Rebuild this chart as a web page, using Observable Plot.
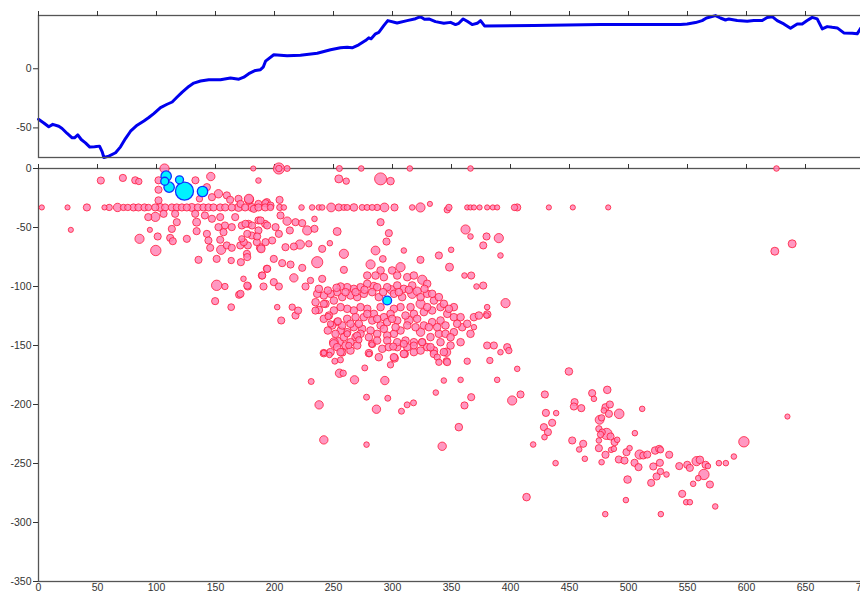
<!DOCTYPE html>
<html>
<head>
<meta charset="utf-8">
<script src="https://cdn.jsdelivr.net/npm/d3@7"></script>
<script src="https://cdn.jsdelivr.net/npm/@observablehq/plot@0.6"></script>
<style>
  html, body { margin: 0; padding: 0; background: #fff; overflow: hidden; width: 860px; height: 594px; }
  #chart { width: 870px; }
  #chart > * { display: block; }
</style>
</head>
<body>
<div id="chart"></div>
<script>
// Topographic profile: [distance km, elevation]
const profile = [
  [0,-42.7],[4.5,-45.8],[8.7,-49],[12.1,-47],[17.2,-48.6],[20,-50.5],[24.3,-54.7],[28.5,-58.4],[30.5,-58.4],
  [33.3,-55.9],[36.2,-59.8],[39.8,-62.6],[43.5,-66.2],[47.5,-66],[51.7,-65.4],[54,-70.2],[55.4,-75],[59.6,-73.8],
  [65.3,-71],[69.5,-66],[73.7,-59],[78,-52.8],[83.6,-47.7],[89.3,-44.1],[93.5,-41.2],[97.7,-37.9],[103.4,-32.8],
  [109,-30],[113.3,-28.1],[117.5,-23.9],[121.8,-19.7],[127.4,-14.9],[131.6,-12.1],[137.3,-10.4],[144.3,-9.3],
  [154.2,-9.3],[162.7,-7.9],[169.8,-8.8],[174,-7.1],[178.2,-4.2],[183.9,-1.4],[188.1,-0.8],[190.4,1.3],[192.4,6.4],
  [199.4,11.8],[210.7,10.9],[222,11.5],[236.2,13.1],[247.5,16],[255.9,17.7],[261.6,18.2],[265.8,17.7],[271.4,20.2],
  [277.1,23.8],[279.9,26.1],[281.9,25.3],[285.6,29.5],[288.4,30.8],[292.6,36.4],[296,40.7],[303.9,38.7],[312.4,40.7],
  [319.5,42.3],[323.7,44],[327.1,41.8],[330.8,42.1],[336.4,39.8],[343.5,38.4],[349.2,39.2],[353.4,37.3],[356.2,38.4],
  [359.9,42.1],[363.3,40.1],[367.5,37.3],[371.8,38.4],[374.6,40.7],[378,36.2],[420,36.5],[476,37.3],[515.8,37.3],
  [544.1,37.3],[549.7,37.9],[556.8,39],[562.4,40.7],[566.1,42.9],[573.7,44.9],[577.9,42.9],[582.2,41.2],[585,42.1],
  [592.1,40.7],[600.6,40.1],[606.2,40.7],[613.3,40.7],[617.5,43.4],[621.8,44],[626,40.7],[631.6,37.9],[637.3,34.2],
  [643,37.9],[647.2,37.9],[651.4,40.7],[655.7,43.4],[659.9,42.1],[664.2,33.7],[668.4,35.6],[672.6,35],[676.9,34.5],
  [682.5,30.3],[689.6,30],[693.8,29.5],[697,34.5]
];

// Earthquakes: [distance km, depth km (negative), magnitude]
const quakes = [
  [106.8,0,3.3],[182,0,2.3],[203.7,0,3.8],[203.7,0,2.6],[210.7,0,2.5],[255,0,2.5],[273.5,0,2.4],[314.7,0,2.4],[366.1,0,2.4],[625.4,0,2.4],
  [52.8,-10.2,2.8],[71.5,-8,2.8],[82,-10,2.8],[85,-11,2.6],[101.7,-10,2.8],[133,-10,2.8],[146,-6.8,3.1],[186.4,-10.2,2.4],
  [101.7,-18,2.8],[142.7,-15.8,2.8],[101.7,-27,2.8],
  [152.5,-21.4,3.1],[159.6,-22.8,2.8],[162.4,-26.5,2.8],[169.5,-25.7,2.8],[178.5,-26.5,3.3],[186.4,-30,2.8],[193.5,-28.5,2.8],[136.4,-25.7,2.6],[147,-24.3,2.8],
  [178.3,-25.7,3.3],[171.2,-30,2.8],[192.4,-29.4,2.8],[196.6,-31.4,2.8],[204.3,-26.6,2.8],[182.5,-34.2,2.8],
  [254.5,-8.8,3],[260.8,-10.7,2.6],[289.9,-8.8,4],[298.3,-10.7,2.9],
  // fixed-depth band
  [2.8,-33,2.3],[24.6,-33,2.3],[41,-33,2.8],[55.9,-33,2.3],[59.9,-33,2.6],[67,-33,3.1],[72,-33,2.6],[75.7,-33,2.6],[80.5,-33,2.8],
  [84.7,-33,2.8],[89.8,-33,2.8],[93.2,-33,2.6],[98.9,-33,2.8],[103.1,-33,3],[107.3,-33,2.8],[113,-33,2.8],[117.2,-33,2.8],
  [121.5,-33,2.8],[125.7,-33,2.8],[129.9,-33,3],[135,-33,2.8],[139.8,-33,2.8],[144.1,-33,2.8],[148.3,-33,2.8],[154,-33,2.8],
  [158.2,-33,2.8],[163.8,-33,2.8],[169.5,-33,3],[175.1,-33,2.8],[180.8,-33,3],[186.4,-33,2.8],[192.1,-33,2.8],
  [196.6,-33,2.6],[204.5,-33,2.6],[207.9,-33,2.4],[222.9,-33,2.4],[231.9,-33,2.4],[237.6,-33,2.4],[240.4,-33,2.4],[248,-33,3.2],
  [254.5,-33,2.8],[258.8,-33,2.5],[261.6,-33,2.5],[267.3,-33,2.9],[274.3,-33,2.5],[278.5,-33,2.5],[282.8,-33,2.5],[287,-33,2.6],
  [293.2,-33,3.2],[301.7,-33,2.8],[316.7,-33,2.4],[323.7,-33,3.3],[331.7,-30,2.3],[346.4,-35,2.6],[347.8,-33,2.6],[363.3,-33,2.3],
  [366.1,-33,2.3],[369,-33,2.3],[373.8,-33,2.3],[380.2,-33,2.3],[385,-33,2.3],[388.7,-33,2.3],[403.4,-33,2.6],[405.7,-33,2.8],
  [432.5,-33,2.3],[452.8,-33,2.3],[482.8,-33,2.3],
  // shallow wedge
  [93,-41.2,2.8],[99,-41,3.3],[106,-38.4,2.8],[115.8,-38.4,2.8],[117.2,-45.5,2.8],[132.8,-38.4,2.8],[134,-45.5,3],[141,-39.8,2.8],
  [147,-42.6,2.8],[154,-41.2,2.8],[158,-48.3,2.8],[166.7,-41.2,2.8],[172.3,-48.3,2.8],[178,-46.9,2.8],[186.4,-44,2.8],[192,-46.9,2.8],
  [27.4,-52,2.3],[94.4,-52,2.3],[113,-51.2,2.8],[134,-53.1,2.8],[142.7,-55.4,2.8],[152.5,-49.7,2.8],[156.8,-54,2.8],[163.8,-49.7,2.8],
  [172.3,-59.6,2.6],[180.8,-56.8,2.8],[186.4,-52.5,2.8],[85.6,-59.6,3.3],[101,-57.6,2.8],[111.6,-58.8,2.8],[113.8,-61.6,2.8],
  [125.7,-59.6,2.8],[144,-61,2.8],[154,-60.4,2.8],[159.6,-65.2,2.8],[145.5,-67.2,2.8],[154.8,-68.9,3.3],[163.8,-67.2,2.8],
  [171,-65.2,2.8],[177.4,-65.2,2.8],[185,-62.4,2.8],[188.7,-68.1,3],[99.4,-69.5,3.6],
  [135.6,-77.4,2.8],[151,-76.6,2.8],[163.3,-78,2.6],[171.5,-79.4,2.8],[176.6,-72.3,2.8],[193.5,-85,2.8],[173.7,-93.5,2.4],
  [189.3,-90.7,2.8],[151,-99,3.6],[158,-100,2.6],[177.4,-100,2.8],[190.7,-100,2.8],[170,-107,2.8],[149.7,-112.4,2.8],[163.3,-117.5,2.7],
  [175.4,-46.9,2.8],[181,-48.3,2.8],[188.2,-44,2.8],[193.8,-48.3,2.8],[200.9,-49.7,2.8],[205.1,-39.8,2.8],[210.7,-44.6,3.1],
  [217.8,-45.5,2.8],[223.5,-46.3,2.8],[227.7,-52.5,3.3],[233.9,-51.1,2.8],[233.9,-42.7,2.4],[213,-52.5,2.8],[203.7,-55.4,2.8],
  [198,-61,2.8],[192.4,-62.4,2.8],[185.3,-57.6,2.8],[176.9,-55.4,2.8],[174,-62.4,2.8],[188.2,-67.2,3.1],[209.3,-66.7,2.8],
  [216.4,-66.1,2.8],[221.5,-64.4,3.3],[229.1,-63.8,2.6],[240.4,-68.1,2.8],[246.9,-63.3,2.4],[253.1,-53.4,3],[258.8,-72.3,3.3],
  [199.4,-76.6,2.8],[206.5,-80.2,2.8],[213.6,-81.4,2.8],[176.9,-75.1,2.8],[236.2,-79.4,3.8],[223.5,-84.2,2.8],[193.8,-85,2.8],
  [189.6,-90.7,2.8],[216.4,-92.7,3.1],[230.5,-94.9,2.6],[240.4,-93.5,2.8],[258.8,-85.9,2.8],[176.9,-99.2,2.8],[199.4,-96.3,2.8],
  [203.7,-100,2.8],[226.3,-100,2.8],[215,-117.5,2.6],[217.8,-124.6,2.8],[202.3,-117.5,2.4],[205.7,-128.8,2.8],[171.2,-106.2,2.8],
  [285.6,-69.5,3.2],[289.9,-45.5,2.8],[296.9,-54.8,2.8],[294.9,-61.9,2.8],[291.8,-76.6,2.7],[309.6,-69.5,2.4],[323.7,-77.4,2.8],
  [339.3,-73.7,2.8],[349.7,-68.9,2.4],[348.3,-83.6,3],[361,-90.7,2.4],[366.7,-90.7,2.8],[361.9,-51.7,3.3],[366.1,-57.6,2.4],
  [379.7,-57.6,2.8],[376.9,-65.2,2.8],[390.1,-59,3.3],[391.5,-73.7,2.4],[395.8,-114.1,3.3],[371.2,-100,2.4],[376.9,-99.2,2.8],
  [380.2,-117.5,2.4],[379.7,-124.6,2.4],[369,-134.5,2.4],[380.2,-150,2.8],[385.9,-150,2.8],[397.2,-151.4,2.8],[398.6,-154.3,2.6],[391.5,-155.7,2.4],
  // dense cluster
  [281.4,-81.3,3.3],[289.9,-86.4,2.9],[278.6,-90.7,2.9],[285.6,-90.7,2.9],[292.7,-92.1,2.9],[299.7,-86.4,2.9],[306.8,-83.6,3.3],
  [304,-90.7,2.9],[312.5,-92.1,2.9],[318.1,-90.7,2.9],[325.2,-94.3,3.3],[329.4,-97.7,2.9],[316.7,-99.1,2.9],[309.6,-102,2.9],
  [304,-99.1,2.9],[295.5,-100.6,2.9],[287,-100.6,2.9],[278.6,-97.7,2.9],[272.9,-100.6,2.9],[267.2,-102,2.9],[261.6,-100.6,2.9],
  [256,-100,2.9],[253.1,-104.8,2.9],[247.5,-106.2,2.9],[241.8,-107.6,2.9],[236.2,-106.2,2.9],[234.8,-113.3,2.9],[237.6,-119.8,2.9],
  [243.2,-114.7,2.9],[250.3,-111.9,2.9],[257.4,-109,2.9],[264.4,-107.6,2.9],[270.1,-109,2.9],[275.7,-106.2,2.9],[282.8,-104.8,2.9],
  [288.4,-109,2.9],[289.9,-117.5,2.9],[301.2,-106.2,2.9],[308.2,-109,2.9],[316.7,-106.2,3.3],[323.8,-109,2.9],[329.4,-106.2,2.9],
  [335.1,-111.9,2.9],[323.8,-114.7,3.3],[315.3,-117.5,2.9],[306.8,-117.5,2.9],[301.2,-118.9,2.9],[298.3,-123.2,2.9],[292.7,-126,2.9],
  [284.2,-123.2,2.9],[278.6,-118.9,2.9],[272.9,-117.5,2.9],[267.2,-120.3,2.9],[261.6,-118.9,2.9],[256,-117.5,2.9],[250.3,-120.3,2.9],
  [246.1,-124.6,2.9],[241.8,-127.4,2.9],[253.1,-130.2,2.9],[261.6,-127.4,2.9],[268.7,-126,2.9],[275.7,-126,2.9],[282.8,-128.8,2.9],
  [289.9,-133,2.9],[295.5,-130.2,2.9],[304,-128.8,2.9],[311,-124.6,2.9],[318.1,-123.2,2.9],[326.6,-121.7,2.9],[333.6,-120.3,2.9],
  [340.7,-117.5,2.9],[346.4,-123.2,2.9],[352,-126,2.9],[340.7,-128.8,2.9],[333.6,-130.2,2.9],[326.6,-133,2.9],[319.5,-134.5,2.9],
  [312.5,-133,2.9],[306.8,-137.3,2.9],[301.2,-140.1,2.9],[295.5,-141.5,2.9],[287,-140.1,2.9],[281.4,-137.3,2.9],[274.3,-135.9,2.9],
  [267.2,-134.5,2.9],[261.6,-138.7,2.9],[256,-137.3,2.9],[268.7,-142.9,2.9],[264.4,-147.2,2.9],[250.3,-147.2,3.2],[253.1,-151.4,2.9],
  [256,-155.6,2.9],[247.5,-155.6,2.9],[241.8,-156.5,2.9],[260.2,-150,2.9],[311,-145.8,2.9],[318.1,-147.2,2.9],[325.2,-147.2,2.9],
  [332.2,-142.9,2.9],[339.3,-140.1,2.9],[344.9,-140.1,2.9],[352,-138.7,2.9],[359.1,-134.5,2.9],[363.3,-131.6,2.9],[366.1,-140.1,2.9],
  [357.7,-147.2,2.9],[349.2,-150,2.9],[343.5,-155.6,2.9],[335.1,-157.1,2.9],[329.4,-151.4,2.9],[318.1,-155.6,2.9],[309.6,-157.1,2.9],
  [304,-151.4,2.9],[301.2,-159.9,2.9],[295.5,-145.8,2.9],[282.8,-148.6,2.9],[280,-156.5,2.9],[291.3,-152.8,2.9],[352,-117.5,2.9],
  [357.7,-126,2.9],[369,-126,2.9],[373.2,-124.6,2.9],[380.3,-123.7,2.9],
  [237.6,-102,2.9],[245.2,-103.4,2.9],[252.6,-101.1,2.9],[260.2,-104.8,2.9],[268.7,-104.8,2.9],[276.3,-102.8,2.9],[284.2,-100,3.1],
  [292.1,-104.8,2.9],[298.9,-102.8,3.1],[305.4,-104.8,2.9],[313.9,-102.8,2.9],[320.9,-104,3.1],[327.1,-102,2.9],[333.6,-106.2,2.9],
  [339.3,-109,2.9],[343.5,-114.7,2.9],[347.8,-118.9,2.9],[329.4,-117.5,2.9],[320.9,-127.4,2.9],[313.9,-128.8,3.1],[299.7,-127.4,2.9],
  [287,-127.4,2.9],[278.6,-123.2,2.9],[271.5,-131.6,2.9],[264.4,-131.6,2.9],[257.4,-133,2.9],[248.9,-133,2.9],[245.2,-137.3,2.9],
  [251.7,-140.1,2.9],[258.8,-143,2.9],[272.9,-140.1,2.9],[280,-143,2.9],[287,-145.8,2.9],[292.7,-135.9,2.9],[302.6,-134.5,2.9],
  [323.8,-138.7,3.1],[330.8,-134.5,2.9],[337.9,-134.5,2.9],[344.9,-133,2.9],[354.8,-131.6,2.9],[349.2,-143,2.9],[340.7,-147.2,2.9],
  [332.2,-151.4,2.9],[323.8,-154.3,2.9],[312.5,-151.4,2.9],[304,-147.2,2.9],[296.9,-151.4,2.9],[288.4,-159.9,2.9],[270.1,-150,2.9],
  [264.4,-154.3,2.9],
  // below the cluster
  [220,-120.4,2.8],[234.7,-120.4,2.8],[241.8,-114.7,2.8],[245.5,-125.5,2.6],[247.5,-131.7,2.6],[253.7,-129.4,2.8],[250.3,-148.6,3.1],
  [254.5,-147.2,3.3],[257.3,-155.7,3],[263,-150,2.6],[241.8,-156.3,2.4],[246.6,-158,2.4],[251.1,-163.3,2.5],[255.9,-162.2,2.5],
  [255.1,-173.5,3.1],[258.2,-173.5,2.6],[231.1,-180.5,2.5],[267.8,-179.1,3.1],[276.5,-169,2.5],[280.2,-157.1,2.4],[282.5,-149.2,2.4],
  [270,-141.6,2.8],[271.5,-145.2,2.6],[261.6,-140.1,2.6],[293.5,-179.7,3.1],[298.3,-166.4,2.6],[301.7,-160.8,3],[310.2,-157.1,3],
  [300.6,-150.9,2.8],[278,-193.8,2.5],[296,-194.7,2.5],[286.4,-204,3.1],[307.6,-205.7,2.5],[312.4,-200.3,2.5],[317.8,-198.6,2.5],
  [237.8,-200.3,3.1],[241.8,-230,3.1],[278,-234,2.4],[342.1,-235.4,3.1],[336.7,-189.9,2.4],[343.5,-179.7,2.4],[335,-154.3,3],
  [337.9,-159.9,2.6],[345.8,-155.7,3.1],[345.8,-163.3,2.8],[339.3,-164.2,2.6],[325.1,-147.2,2.8],[318.1,-150,2.8],[309.6,-148.6,2.8],
  // deep slab
  [346.3,-164.1,2.8],[363.3,-163.3,2.6],[382.5,-162.7,2.6],[405.7,-169.8,2.4],[357.7,-179.1,2.4],[388.7,-179.1,2.4],[449.5,-172,2.9],
  [401.4,-196.6,3.3],[408.5,-191.5,2.8],[429.1,-191.5,2.8],[366.7,-193.8,2.8],[361,-200.8,2.8],[356.2,-219.2,2.9],[413.6,-278.5,2.9],
  [419.2,-233.9,2.4],[438.2,-249.7,2.4],[430,-207.1,2.8],[438.7,-207.3,2.4],[435.3,-215.5,2.8],[428.3,-219.2,2.8],[431.7,-223.4,2.8],
  [428.8,-227.7,2.4],[469.2,-190.4,2.8],[470.7,-195.2,2.4],[482,-187.6,2.9],[454.3,-198,2.8],[453.7,-201.7,2.8],[460,-203.1,2.8],
  [452.3,-230.5,2.8],[461.6,-233.3,2.8],[458.2,-238.1,2.4],[463,-246,2.4],[480.5,-202.3,2.8],[484.2,-200,2.8],[483.4,-207.9,2.8],
  [479.1,-205.1,2.4],[492.1,-207.9,3.4],[475.5,-213,3.2],[477.2,-211.3,2.6],[474.9,-220.6,2.6],[477.7,-223.4,2.6],[481.4,-224.9,3.8],
  [476.3,-225.4,2.6],[474.9,-230.5,2.4],[484.8,-227.1,2.8],[488.2,-231.9,2.8],[490.4,-229.9,2.4],[474.9,-237,2.8],[485.3,-238.4,2.4],
  [487.6,-237.6,2.4],[480.5,-242.6,2.8],[477.2,-248.9,2.4],[491.8,-246.6,2.8],[496.6,-247.5,2.8],[498.3,-240.4,2.8],[500.9,-237,2.4],
  [511.6,-203.7,2.4],[505.4,-224.3,2.4],[505.1,-249.4,2.8],[509.4,-242.4,3.3],[512.5,-243.2,2.8],[515.9,-242.4,2.8],[508.5,-253.1,2.8],
  [522.6,-239,2.9],[526,-237.6,2.8],[527.1,-238.4,2.6],[534.5,-242.6,2.8],[521,-252.5,2.8],[526.6,-249.4,2.8],[527.1,-256.8,2.6],
  [532.2,-259.3,2.4],[523.8,-261,2.8],[519.2,-266.4,2.8],[499.2,-263.6,2.9],[497.8,-281,2.4],[480.3,-292.9,2.4],[527.4,-292.9,2.4],
  [543,-252.2,2.8],[549.8,-251.1,2.8],[552,-253.7,2.8],[557.7,-248,3.3],[560.5,-246.9,2.9],[565.3,-251.1,2.8],[567.3,-252.2,2.4],
  [563.9,-259.3,3.6],[559.1,-262.4,2.4],[569,-267.8,2.8],[554.8,-267.2,2.4],[545.5,-275.7,2.8],[548.9,-282.8,2.4],[552,-282.8,2.4],
  [573.5,-286.4,2.4],[576.6,-249.7,2.4],[582.5,-249.7,2.4],[589.3,-244.1,2.4],[597.8,-231.6,3.6],
  [624,-70.1,3],[638.7,-63.8,3],[634.7,-210.2,2.3]
];

// Highlighted events (cyan)
const highlighted = [
  [108.2,-6.5,3.6],[107,-10.8,3.0],[110.7,-15.8,3.6],[119.5,-9.6,3.0],[123.7,-19.2,5.5],[139,-19.5,3.6],[295.5,-111.9,3.2]
];

const xTicks = d3.range(0, 701, 50);
const topYTicks = [-50, 0];
const depthTicks = d3.range(-350, 1, 50);

const fontStyle = {fontFamily: "'Liberation Sans', Arial, sans-serif", fontSize: "10.5px", color: "#333", background: "transparent", overflow: "visible", maxWidth: "none"};
const fmt = d => String(d);

const topChart = Plot.plot({
  width: 870, height: 160,
  marginLeft: 38, marginRight: 6, marginTop: 15, marginBottom: 3,
  style: fontStyle,
  x: {domain: [0, 700]},
  y: {domain: [-75, 45]},
  marks: [
    Plot.line(profile, {x: d => d[0], y: d => d[1], stroke: "#0000ee", strokeWidth: 3, strokeLinejoin: "round"}),
    Plot.frame({stroke: "#555", strokeWidth: 1.3}),
    Plot.axisX({anchor: "top", ticks: xTicks, tickSize: 5, tickFormat: () => "", label: null, stroke: "#333"}),
    Plot.axisY({anchor: "left", ticks: topYTicks, tickSize: 5, tickPadding: 2, tickFormat: fmt, label: null, stroke: "#333"})
  ]
});

const bottomChart = Plot.plot({
  width: 870, height: 434,
  marginLeft: 38, marginRight: 6, marginTop: 8, marginBottom: 13,
  style: fontStyle,
  x: {domain: [0, 700]},
  y: {domain: [-350, 0]},
  r: {type: "linear", domain: [2, 6], range: [2, 10]},
  marks: [
    Plot.frame({stroke: "#555", strokeWidth: 1.3}),
    Plot.axisX({anchor: "top", ticks: xTicks, tickSize: 5, tickFormat: () => "", label: null, stroke: "#333"}),
    Plot.axisX({anchor: "bottom", ticks: xTicks, tickSize: 0, tickPadding: 2, tickFormat: fmt, label: null}),
    Plot.axisY({anchor: "left", ticks: depthTicks, tickSize: 5, tickPadding: 2, tickFormat: fmt, label: null, stroke: "#333"}),
    Plot.dot(quakes, {x: d => d[0], y: d => d[1], r: d => d[2], fill: "#ff86b6", fillOpacity: 0.85, stroke: "#ff1030", strokeOpacity: 0.75, strokeWidth: 1}),
    Plot.dot(highlighted, {x: d => d[0], y: d => d[1], r: d => d[2], fill: "#00f2ff", stroke: "#1030ff", strokeWidth: 1.3})
  ]
});

document.getElementById("chart").append(topChart, bottomChart);
</script>
</body>
</html>
